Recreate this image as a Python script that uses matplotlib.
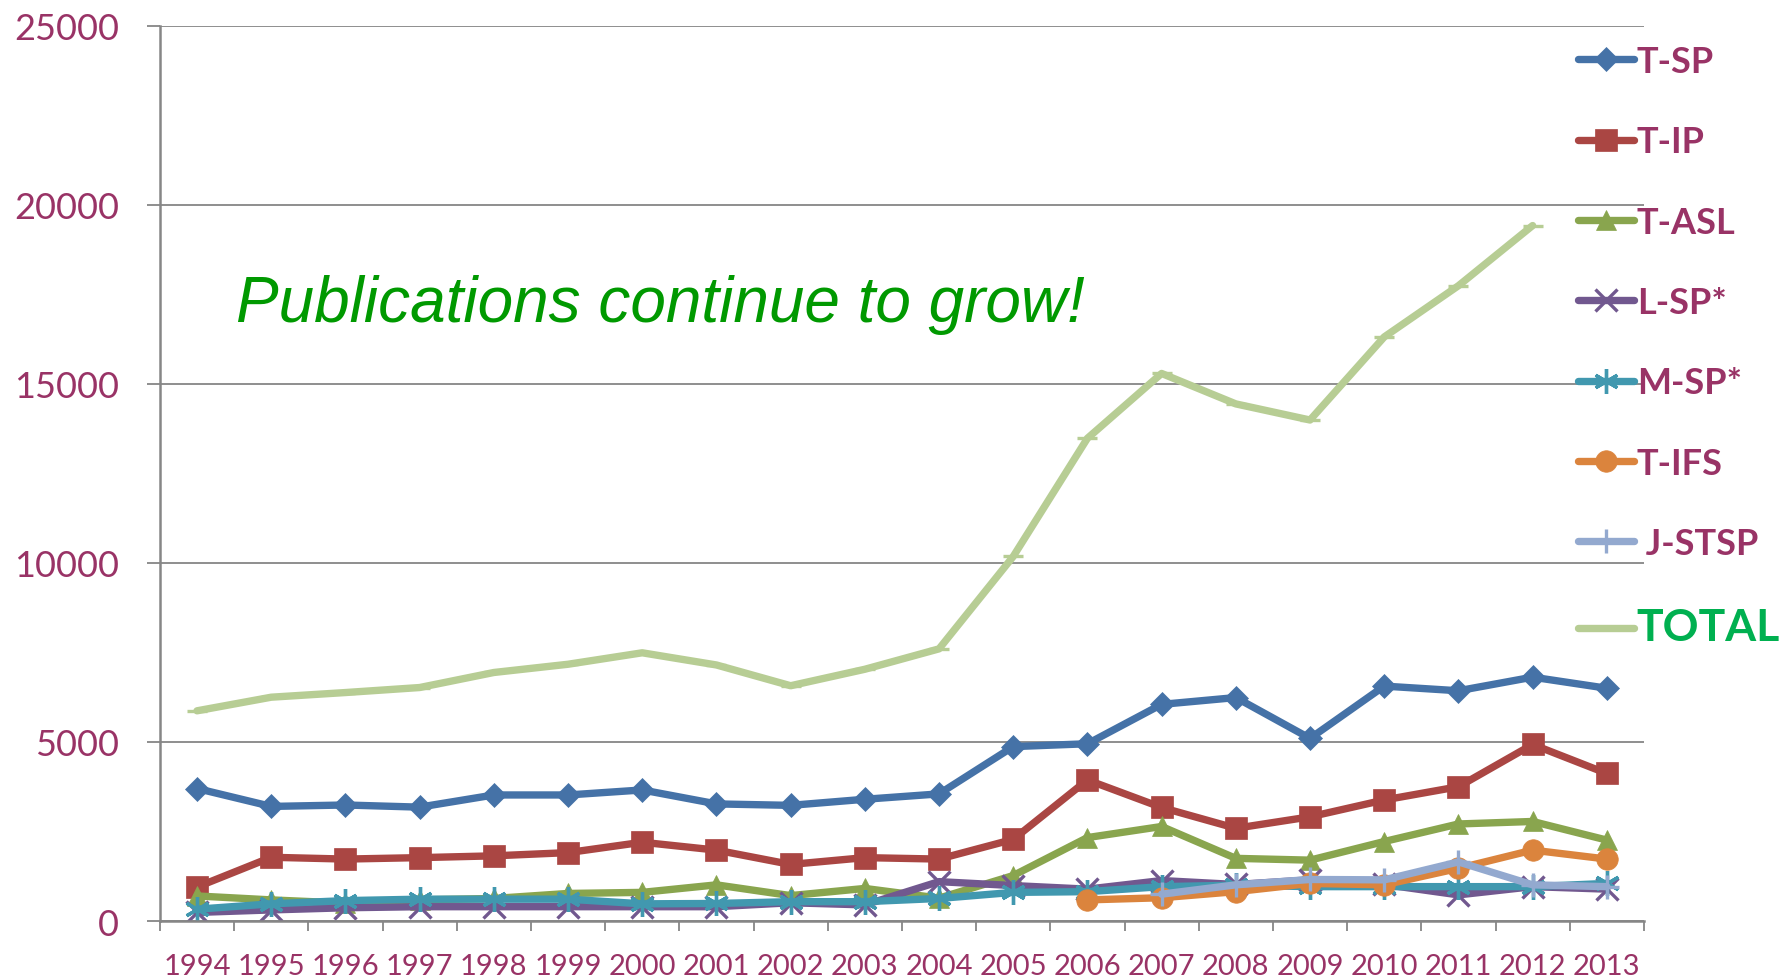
import numpy as np
import matplotlib
matplotlib.use("Agg")
import matplotlib.pyplot as plt
from matplotlib.ticker import FixedLocator, NullFormatter

nan = np.nan
years = [str(y) for y in range(1994, 2014)]

t_sp = [3700, 3200, 3240, 3180, 3520, 3520, 3660, 3270, 3230, 3400,
        3550, 4870, 4950, 6050, 6240, 5100, 6560, 6430, 6810, 6500]
t_ip = [950, 1780, 1730, 1770, 1820, 1910, 2200, 1980, 1580, 1770,
        1730, 2280, 3940, 3170, 2590, 2910, 3380, 3750, 4930, 4120]
t_asl = [700, 590, 500, 590, 630, 770, 800, 1010, 710, 910,
         640, 1270, 2330, 2640, 1750, 1700, 2220, 2710, 2780, 2260]
l_sp = [240, 310, 370, 400, 400, 400, 400, 400, 510, 450,
        1100, 990, 890, 1130, 1020, 1150, 1020, 730, 960, 890]
m_sp = [330, 480, 570, 610, 610, 610, 480, 490, 540, 540,
        630, 800, 820, 960, 1000, 960, 960, 960, 960, 1050]
t_ifs = [nan] * 12 + [590, 650, 820, 1050, 1010, 1470, 1980, 1730]
j_stsp = [nan] * 13 + [750, 1010, 1160, 1150, 1650, 1010, 960]
total = [5870, 6250, 6380, 6520, 6940, 7170, 7490, 7150, 6570, 7030,
         7600, 10180, 13480, 15290, 14440, 13990, 16310, 17740, 19420, nan]

labels = ["T-SP", "T-IP", "T-ASL", "L-SP*", "M-SP*", "T-IFS", " J-STSP", "TOTAL"]
colors = ["#4572A7", "#AA4643", "#89A54E", "#71588F", "#4198AF", "#DB843D", "#93A9CF", "#B7CD94"]
markers = ["D", "s", "^", "x", (6, 2, 0), "o", "+", "_"]
msizes = [12.5, 15.5, 14.5, 16, 18, 15.5, 17, 14]
series = [t_sp, t_ip, t_asl, l_sp, m_sp, t_ifs, j_stsp, total]

label_color = "#993366"
gray = "#868686"

fig = plt.figure(figsize=(17.83, 9.79), dpi=100)
ax = fig.add_axes([0.0897, 0.0582, 0.8323, 0.9145])

x = np.arange(len(years))
for vals, lab, c, m, ms in zip(series, labels, colors, markers, msizes):
    filled = m in ["D", "s", "^", "o"]
    ax.plot(x, vals, color=c, lw=5.3, marker=m, markersize=ms,
            markerfacecolor=c, markeredgecolor=c,
            markeredgewidth=0.5 if filled else 2.4, label=lab,
            solid_joinstyle="round", solid_capstyle="round")

ax.set_xlim(-0.5, len(years) - 0.5)
ax.set_ylim(0, 25000)
ax.set_yticks(range(0, 25001, 5000))
ax.yaxis.grid(True, color=gray, lw=1.3)
ax.set_axisbelow(True)

ax.xaxis.set_major_locator(FixedLocator(np.arange(-0.5, len(years), 1)))
ax.xaxis.set_major_formatter(NullFormatter())
ax.xaxis.set_minor_locator(FixedLocator(x))
ax.set_xticklabels(years, minor=True)
ax.tick_params(axis="x", which="major", length=7, width=1.3, color=gray, direction="out")
ax.tick_params(axis="x", which="minor", length=0, pad=23, labelsize=21, labelcolor=label_color)
ax.tick_params(axis="y", length=9.5, width=1.3, color=gray, pad=20, labelsize=26,
               labelcolor=label_color)
for lbl in ax.get_xticklabels(minor=True) + ax.get_yticklabels():
    lbl.set_fontfamily(["Lato", "DejaVu Sans"])

for s in ["top", "right"]:
    ax.spines[s].set_visible(False)
for s in ["left", "bottom"]:
    ax.spines[s].set_color(gray)
    ax.spines[s].set_linewidth(1.8)

fig.text(0.1324, 0.671, "Publications continue to grow!", color="#009900",
         fontsize=46, style="italic", family=["Liberation Sans", "DejaVu Sans"],
         va="baseline", ha="left")

leg = ax.legend(loc="upper left", bbox_to_anchor=(0.885, 0.953),
                bbox_transform=fig.transFigure, frameon=False, numpoints=1,
                prop={"family": ["Lato", "DejaVu Sans"], "weight": "bold", "size": 26},
                handlelength=1.55, handletextpad=0.08, labelspacing=1.31,
                borderpad=0, borderaxespad=0)
for t in leg.get_texts():
    t.set_color(label_color)
total_text = leg.get_texts()[-1]
total_text.set_color("#00B050")
total_text.set_fontsize(32)

fig.savefig("out.png", dpi=100)
